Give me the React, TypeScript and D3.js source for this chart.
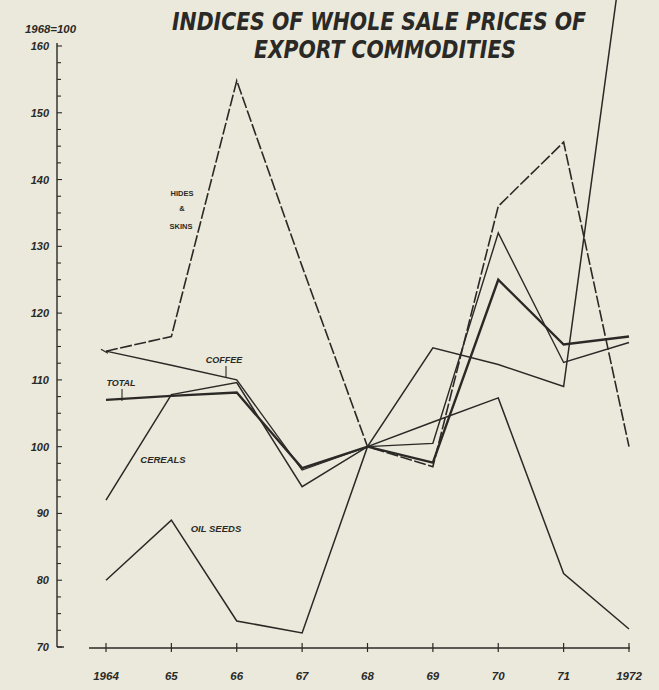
import React from "react";
import * as d3 from "d3";

const years = [1964, 1965, 1966, 1967, 1968, 1969, 1970, 1971, 1972];
const yearLabels = ["1964", "65", "66", "67", "68", "69", "70", "71", "1972"];
const yTickLabels = [70, 80, 90, 100, 110, 120, 130, 140, 150, 160];

const hidesSkins = [114.3, 116.5, 154.8, 127, 100, 97, 136, 145.6, 100];
const coffee = [114.3, 112.2, 110, 96.5, 100, 100.5, 132, 112.6, 115.6];
const total = [107, 107.6, 108.1, 96.8, 100, 97.6, 125, 115.3, 116.5];
const cereals = [92, 107.8, 109.6, 94, 100, 103.7, 107.3, 81, 72.7];
const oilSeeds = [80, 89, 73.9, 72.1, 100, 114.8, 112.3, 109, 181];

const W = 659;
const H = 690;
const INK = "#2a2926";
const BG = "#ebe9dc";

export default function App() {
  const x = d3.scaleLinear().domain([1964, 1972]).range([106, 629]);
  const y = d3.scaleLinear().domain([70, 160]).range([647, 46]);

  const line = (vals: number[]) =>
    d3
      .line<number>()
      .x((_, i) => x(years[i]))
      .y((v) => y(v))(vals) as string;

  const minorTicks = d3.range(70, 160.01, 2.5);
  const labelFont = "'Liberation Sans', 'DejaVu Sans', sans-serif";
  const narrow = "'Liberation Sans Narrow', 'DejaVu Sans Condensed', 'Liberation Sans', sans-serif";

  return (
    <svg
      width={W}
      height={H}
      style={{ position: "fixed", left: 0, top: 0, display: "block" }}
    >
      <rect x={0} y={0} width={W} height={H} fill={BG} />

      {/* Title */}
      <text
        x={172}
        y={30}
        fontFamily={narrow}
        fontWeight={700}
        fontStyle="italic"
        fontSize={25}
        fill={INK}
        textLength={414}
        lengthAdjust="spacingAndGlyphs"
      >
        INDICES OF WHOLE SALE PRICES OF
      </text>
      <text
        x={254}
        y={58}
        fontFamily={narrow}
        fontWeight={700}
        fontStyle="italic"
        fontSize={25}
        fill={INK}
        textLength={262}
        lengthAdjust="spacingAndGlyphs"
      >
        EXPORT COMMODITIES
      </text>
      <text
        x={25}
        y={33}
        fontFamily={labelFont}
        fontWeight={700}
        fontStyle="italic"
        fontSize={10}
        fill={INK}
        textLength={51}
        lengthAdjust="spacingAndGlyphs"
      >
        1968=100
      </text>

      {/* Y axis */}
      <line x1={57} x2={57} y1={y(160) - 3} y2={y(70)} stroke={INK} strokeWidth={1.4} />
      <line x1={57} x2={64} y1={y(70)} y2={y(70)} stroke={INK} strokeWidth={1.4} />
      {minorTicks.map((t) => (
        <line
          key={"mt" + t}
          x1={57}
          x2={t % 10 === 0 ? 62 : 61}
          y1={y(t)}
          y2={y(t)}
          stroke={INK}
          strokeWidth={1.1}
        />
      ))}
      {yTickLabels.map((t) => (
        <text
          key={"yl" + t}
          x={49}
          y={y(t) + 4}
          textAnchor="end"
          fontFamily={labelFont}
          fontWeight={700}
          fontStyle="italic"
          fontSize={11}
          fill={INK}
        >
          {t}
        </text>
      ))}

      {/* X axis */}
      <line x1={89} x2={630} y1={648} y2={648} stroke={INK} strokeWidth={1.4} />
      {years.map((yr, i) => (
        <g key={"xt" + yr}>
          <line x1={x(yr)} x2={x(yr)} y1={643} y2={652} stroke={INK} strokeWidth={1.2} />
          <text
            x={x(yr)}
            y={680}
            textAnchor="middle"
            fontFamily={labelFont}
            fontWeight={700}
            fontStyle="italic"
            fontSize={11.5}
            fill={INK}
          >
            {yearLabels[i]}
          </text>
        </g>
      ))}

      {/* Series */}
      <path d={line(oilSeeds)} fill="none" stroke={INK} strokeWidth={1.5} />
      <path d={line(cereals)} fill="none" stroke={INK} strokeWidth={1.5} />
      <path d={line(coffee)} fill="none" stroke={INK} strokeWidth={1.4} />
      <path
        d={line(hidesSkins)}
        fill="none"
        stroke={INK}
        strokeWidth={1.6}
        strokeDasharray="12,2.5"
      />
      <path d={line(total)} fill="none" stroke={INK} strokeWidth={2.4} />

      {/* small mark at 1964 start of hides/coffee */}
      <line
        x1={x(1964) - 5}
        x2={x(1964) + 2}
        y1={y(hidesSkins[0]) - 2}
        y2={y(hidesSkins[0]) + 2}
        stroke={INK}
        strokeWidth={1.2}
      />

      {/* Series labels */}
      <g fontFamily={labelFont} fontWeight={700} fill={INK}>
        <text x={182} y={196} fontSize={7.5} textAnchor="middle">HIDES</text>
        <text x={182} y={211} fontSize={7.5} textAnchor="middle">&amp;</text>
        <text x={181} y={229} fontSize={7.5} textAnchor="middle">SKINS</text>

        <text x={224} y={363} fontSize={9} fontStyle="italic" textAnchor="middle">COFFEE</text>
        <line x1={226} x2={226} y1={366} y2={378} stroke={INK} strokeWidth={1.1} />

        <text x={121} y={386} fontSize={9} fontStyle="italic" textAnchor="middle">TOTAL</text>
        <line x1={122} x2={122} y1={389} y2={401} stroke={INK} strokeWidth={1.1} />

        <text x={163} y={463} fontSize={9.5} fontStyle="italic" textAnchor="middle">CEREALS</text>
        <text x={216} y={532} fontSize={9.5} fontStyle="italic" textAnchor="middle">OIL SEEDS</text>
      </g>
    </svg>
  );
}
